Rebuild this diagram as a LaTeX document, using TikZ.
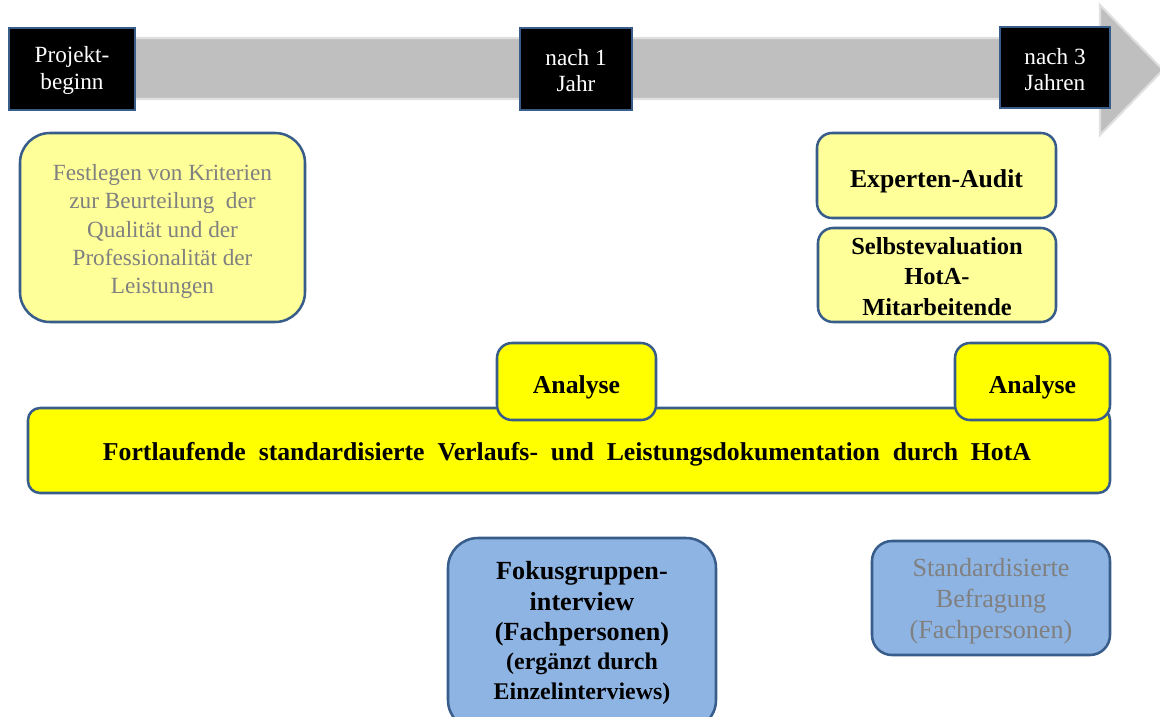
\documentclass[tikz,border=0pt]{standalone}
\usepackage{fontspec}
\setmainfont{Liberation Serif}
\definecolor{rahmen}{HTML}{385D8A}
\definecolor{hellgelb}{HTML}{FFFF99}
\definecolor{gelb}{HTML}{FFFF00}
\definecolor{hellblau}{HTML}{8EB4E3}
\definecolor{pfeilgrau}{HTML}{BFBFBF}
\tikzset{
  marke/.style={draw=rahmen,line width=1.8pt,fill=black},
  kasten/.style={draw=rahmen,line width=1.8pt,rounded corners=#1},
  kasten/.default=0.375cm,
  weiss/.style={text=white,align=center,font=\fontsize{16.5}{19}\selectfont},
  grau/.style={text=gray,align=center},
  fett/.style={align=center,font=\bfseries}
}
\begin{document}
\begin{tikzpicture}[x=0.025cm,y=-0.025cm]
    \clip (0,0) rectangle (1160,717);
    \useasboundingbox (0,0) rectangle (1160,717);

    % Zeitachse
    \fill[pfeilgrau,draw=gray!25,line width=1.5pt] (10,38)--(1100,38)--(1100,5)--(1163,70)--(1100,135)--(1100,99)--(10,99)--cycle;
    \filldraw[marke] (9,28) rectangle (135,110);
    \node[weiss] (beginn) at (72,70.5) {Projekt-\\beginn};
    \filldraw[marke] (520,28) rectangle (632,110);
    \node[weiss] (jahr1) at (576,70.5) {nach 1\\Jahr};
    \filldraw[marke] (1000,27) rectangle (1110,108);
    \node[weiss] (jahr3) at (1055,69.5) {nach 3\\Jahren};

    % obere Kaesten
    \filldraw[kasten=0.75cm,fill=hellgelb] (20,133) rectangle (305,322);
    \node[grau,font=\fontsize{16.5}{20.2}\selectfont] (kriterien) at (162.5,231.5)
      {Festlegen von Kriterien\\zur Beurteilung\ \ der\\Qualität\ und der\\Professionalität\ der\\Leistungen};
    \filldraw[kasten,fill=hellgelb] (817,133) rectangle (1056,218);
    \node[fett,font=\fontsize{18.3}{22}\selectfont\bfseries] (audit) at (936.5,181) {Experten-Audit};
    \filldraw[kasten,fill=hellgelb] (818,228) rectangle (1056,322);
    \node[fett,font=\fontsize{17.4}{21.6}\selectfont\bfseries] (selbst) at (937,276.5)
      {Selbstevaluation\\HotA-\\Mitarbeitende};

    % Dokumentation und Analysen
    \filldraw[kasten=0.3cm,fill=gelb] (28,408) rectangle (1110,493);
    \node[fett,font=\fontsize{18.3}{22}\selectfont\bfseries] (doku) at (567,454.5)
      {\makebox[660pt][s]{Fortlaufende standardisierte Verlaufs- und Leistungsdokumentation durch HotA}};
    \filldraw[kasten,fill=gelb] (497,343) rectangle (656,420);
    \node[fett,font=\fontsize{18.3}{22}\selectfont\bfseries] (analyse1) at (576.5,387) {Analyse};
    \filldraw[kasten,fill=gelb] (955,343) rectangle (1110,420);
    \node[fett,font=\fontsize{18.3}{22}\selectfont\bfseries] (analyse3) at (1032.5,387) {Analyse};

    % Befragungen
    \filldraw[kasten=0.75cm,fill=hellblau] (448,538) rectangle (716,730);
    \node[fett,font=\fontsize{18.6}{21.5}\selectfont\bfseries] (fokus) at (582,633)
      {Fokusgruppen-\\interview\\(Fachpersonen)\\[-1pt]{\fontsize{17}{21}\selectfont(ergänzt durch}\\{\fontsize{17}{21}\selectfont Einzelinterviews)}};
    \filldraw[kasten=0.5cm,fill=hellblau] (872,541) rectangle (1110,655);
    \node[grau,font=\fontsize{18.6}{22}\selectfont] (befragung) at (991,601)
      {Standardisierte\\Befragung\\(Fachpersonen)};
\end{tikzpicture}
\end{document}
